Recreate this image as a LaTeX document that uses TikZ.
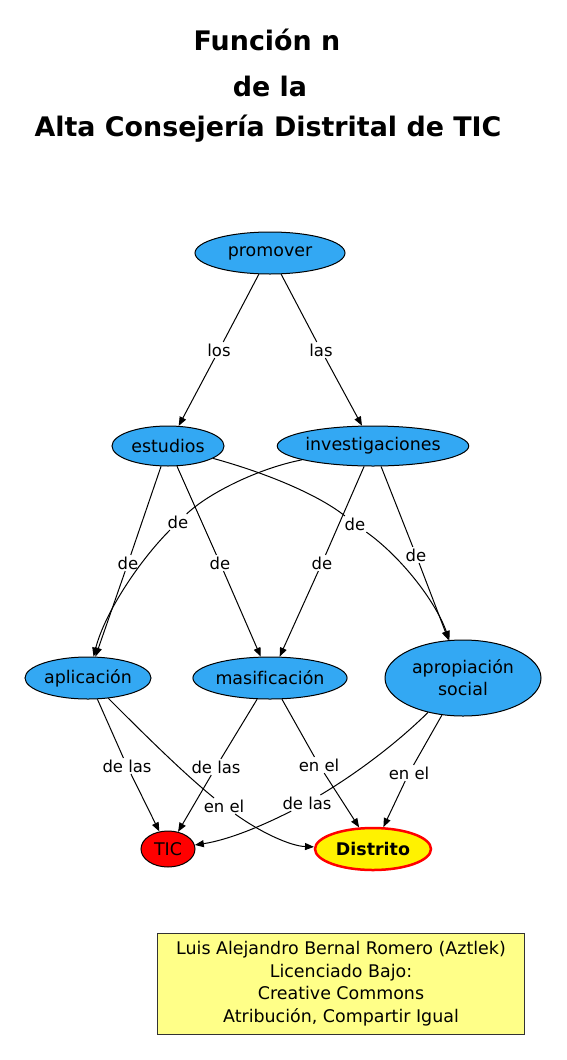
\documentclass[tikz,border=0pt]{standalone}
\usepackage{fontspec}
\setmainfont[Ligatures={NoCommon}]{DejaVu Sans}
\usetikzlibrary{shapes.geometric,arrows.meta}
\definecolor{nodeblue}{RGB}{51,168,243}
\definecolor{boxyellow}{RGB}{255,255,136}
\begin{document}
\begin{tikzpicture}[x=1bp,y=-1bp,
  concept/.style={ellipse,draw=black,fill=nodeblue,inner sep=0pt,line width=1bp,
    font=\fontsize{17.5}{22}\selectfont,align=center},
  lbl/.style={inner sep=1.5bp,font=\fontsize{16.5}{20}\selectfont},
  edge/.style={-{Triangle[length=9bp,width=7bp]},line width=1bp},
  ttl/.style={font=\fontsize{27}{32}\selectfont\bfseries}
  ]
\useasboundingbox (0,0) rectangle (567,1060);
% title
\node[ttl] (t1) at (267,40) {Función n};
\node[ttl] (t2) at (270,86) {de la};
\node[ttl] (t3) at (268,129) {Alta Consejería Distrital de TIC};
% concepts
\node[concept,minimum width=150bp,minimum height=42bp] (pro) at (270,253) {promover};
\node[concept,minimum width=112bp,minimum height=40bp] (est) at (168,446) {estudios};
\node[concept,minimum width=182bp,minimum height=40bp] (inv) at (373,446) {investigaciones};
\node[concept,minimum width=126bp,minimum height=42bp] (apl) at (88,678) {aplicación};
\node[concept,minimum width=152bp,minimum height=42bp] (mas) at (270,678) {masificación};
\node[concept,minimum width=156bp,minimum height=76bp] (apr) at (463,678) {apropiación\\social};
\node[concept,fill=red,minimum width=54bp,minimum height=36bp] (tic) at (168,849) {TIC};
\node[concept,fill=yellow,draw=red,line width=2.5bp,minimum width=116bp,minimum height=42bp,
  font=\fontsize{17.5}{22}\selectfont\bfseries] (dis) at (373,849) {Distrito};
% edge labels
\node[lbl] (l1) at (219,350) {los};
\node[lbl] (l2) at (321,350) {las};
\node[lbl] (l3) at (178,522) {de};
\node[lbl] (l4) at (355,524) {de};
\node[lbl] (l5) at (128,563) {de};
\node[lbl] (l6) at (220,563) {de};
\node[lbl] (l7) at (322,563) {de};
\node[lbl] (l8) at (416,555) {de};
\node[lbl] (l9) at (127,766) {de las};
\node[lbl] (l10) at (224,806) {en el};
\node[lbl] (l11) at (216,767) {de las};
\node[lbl] (l12) at (319,765) {en el};
\node[lbl] (l13) at (307,803) {de las};
\node[lbl] (l14) at (409,773) {en el};
% edges
\draw[edge] (pro) -- (l1) -- (est);
\draw[edge] (pro) -- (l2) -- (inv);
\draw[edge] (inv) .. controls (260,468) and (210,492) .. (l3) .. controls (140,560) and (105,612) .. (apl);
\draw[edge] (est) .. controls (270,474) and (320,496) .. (l4) .. controls (400,556) and (435,600) .. (apr);
\draw[edge] (est) -- (l5) -- (apl);
\draw[edge] (est) -- (l6) -- (mas);
\draw[edge] (inv) -- (l7) -- (mas);
\draw[edge] (inv) -- (l8) -- (apr);
\draw[edge] (apl) -- (l9) -- (tic);
\draw[edge] (apl) .. controls (140,730) and (182,772) .. (l10) .. controls (260,832) and (290,846) .. (dis);
\draw[edge] (mas) -- (l11) -- (tic);
\draw[edge] (mas) -- (l12) -- (dis);
\draw[edge] (apr) .. controls (400,740) and (362,770) .. (l13) .. controls (262,826) and (228,840) .. (tic);
\draw[edge] (apr) -- (l14) -- (dis);
% license box
\node[draw=black!80,fill=boxyellow,line width=1bp,minimum width=366bp,minimum height=101bp,
  align=center,inner sep=0pt,font=\fontsize{17.5}{22.7}\selectfont] (lic) at (341,983.5)
  {Luis Alejandro Bernal Romero (Aztlek)\\Licenciado Bajo:\\Creative Commons\\Atribución, Compartir Igual};
\end{tikzpicture}
\end{document}
